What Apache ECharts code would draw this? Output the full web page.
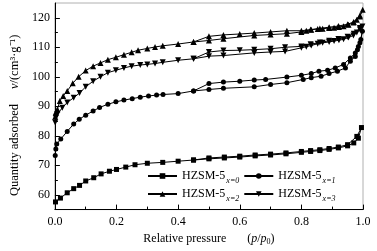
<!DOCTYPE html>
<html><head><meta charset="utf-8">
<script src="https://cdn.jsdelivr.net/npm/echarts@6/dist/echarts.min.js"></script>
<style>html,body{margin:0;padding:0;background:#fff}#c{width:377px;height:251px}</style>
</head><body><div id="c"></div>
<script>
// HZSM-5 x=0 (squares)
const p0Ads = [0.002, 0.018, 0.04, 0.061, 0.08, 0.10, 0.126, 0.15, 0.177, 0.20, 0.23, 0.26, 0.30, 0.35, 0.40, 0.45, 0.50, 0.55, 0.60, 0.65, 0.70, 0.75, 0.80, 0.83, 0.86, 0.89, 0.92, 0.95, 0.97, 0.985, 0.995];
const v0Ads = [57.6, 58.9, 60.7, 62.1, 63.2, 64.7, 65.8, 67.1, 68.0, 68.6, 69.4, 70.2, 70.7, 71.0, 71.4, 71.8, 72.2, 72.5, 72.8, 73.2, 73.5, 73.9, 74.4, 74.7, 75.0, 75.4, 75.9, 76.6, 77.6, 79.2, 82.8];
const p0Des = [0.98, 0.95, 0.92, 0.89, 0.86, 0.83, 0.80, 0.75, 0.70, 0.65, 0.60, 0.55, 0.50, 0.45];
const v0Des = [79.8, 77.0, 76.2, 75.7, 75.3, 75.0, 74.7, 74.2, 73.8, 73.5, 73.1, 72.8, 72.5, 71.8];
// HZSM-5 x=1 (circles)
const p1Ads = [0.001, 0.003, 0.006, 0.019, 0.04, 0.061, 0.079, 0.10, 0.124, 0.145, 0.172, 0.198, 0.224, 0.251, 0.277, 0.304, 0.33, 0.351, 0.40, 0.45, 0.50, 0.547, 0.647, 0.70, 0.753, 0.806, 0.832, 0.864, 0.89, 0.917, 0.943, 0.959, 0.975, 0.982, 0.99, 0.998];
const v1Ads = [73.3, 75.5, 77.2, 78.9, 81.5, 84.0, 85.6, 87.0, 88.4, 89.6, 90.7, 91.5, 92.1, 92.6, 93.1, 93.5, 93.8, 94.0, 94.3, 95.2, 95.7, 96.1, 96.6, 97.4, 98.0, 99.1, 99.7, 100.2, 101.1, 101.9, 103.0, 105.3, 106.9, 109.2, 111.5, 115.4];
const p1Des = [0.993, 0.985, 0.975, 0.959, 0.937, 0.91, 0.885, 0.857, 0.832, 0.80, 0.753, 0.684, 0.647, 0.60, 0.547, 0.50, 0.45];
const v1Des = [112.6, 110.3, 108.1, 106.4, 104.2, 103.0, 102.2, 101.9, 101.1, 100.5, 99.9, 99.1, 98.9, 98.5, 98.2, 97.7, 95.2];
// HZSM-5 x=2 (triangles)
const p2Ads = [0.001, 0.003, 0.008, 0.016, 0.027, 0.04, 0.058, 0.077, 0.10, 0.124, 0.148, 0.172, 0.198, 0.224, 0.249, 0.27, 0.30, 0.325, 0.35, 0.40, 0.45, 0.50, 0.547, 0.647, 0.70, 0.753, 0.80, 0.816, 0.832, 0.853, 0.869, 0.89, 0.906, 0.922, 0.937, 0.953, 0.969, 0.98, 0.99, 0.999];
const v2Ads = [86.5, 88.0, 89.0, 91.8, 93.5, 95.2, 97.8, 100.0, 102.1, 103.6, 104.7, 105.8, 106.6, 107.5, 108.3, 109.0, 109.6, 110.1, 110.5, 111.1, 111.8, 112.3, 112.9, 114.0, 114.3, 114.6, 115.2, 115.6, 115.9, 116.2, 116.3, 116.5, 116.6, 116.9, 117.1, 117.6, 118.4, 119.3, 120.4, 122.7];
const p2Des = [0.99, 0.97, 0.95, 0.92, 0.89, 0.86, 0.83, 0.80, 0.753, 0.70, 0.647, 0.60, 0.547, 0.50, 0.45];
const v2Des = [120.8, 118.6, 117.8, 117.2, 116.8, 116.4, 116.0, 115.6, 115.6, 115.2, 114.8, 114.5, 114.2, 113.7, 111.8];
// HZSM-5 x=3 (inverted triangles)
const p3Ads = [0.001, 0.003, 0.008, 0.024, 0.04, 0.061, 0.08, 0.10, 0.124, 0.148, 0.172, 0.198, 0.224, 0.249, 0.277, 0.30, 0.325, 0.35, 0.40, 0.45, 0.50, 0.547, 0.647, 0.70, 0.747, 0.80, 0.816, 0.832, 0.853, 0.869, 0.89, 0.906, 0.922, 0.937, 0.953, 0.969, 0.98, 0.99, 0.998];
const v3Ads = [84.5, 86.0, 87.3, 89.5, 91.3, 92.9, 94.5, 96.6, 98.5, 100.0, 101.4, 102.2, 103.0, 103.6, 104.0, 104.2, 104.5, 104.9, 105.6, 106.1, 107.0, 107.2, 108.1, 108.4, 108.6, 109.8, 110.2, 110.6, 111.2, 111.5, 111.8, 112.1, 112.4, 112.7, 113.3, 114.0, 115.0, 116.0, 117.0];
const p3Des = [0.99, 0.97, 0.95, 0.92, 0.89, 0.86, 0.83, 0.80, 0.747, 0.70, 0.647, 0.60, 0.547, 0.50, 0.45];
const v3Des = [116.5, 114.6, 113.6, 112.8, 112.2, 111.6, 111.0, 110.3, 110.0, 109.5, 109.2, 109.0, 108.9, 108.4, 106.1];

const seriesSubs = ['x=0', 'x=1', 'x=2', 'x=3'];
const xTicks = [0, 0.2, 0.4, 0.6, 0.8, 1.0];
const yMajor = [60, 70, 80, 90, 100, 110, 120];
const yMinor = [65, 75, 85, 95, 105, 115];

function loop(pa, va, pd, vd) {
  const out = [];
  pa.forEach((p, i) => out.push([p, va[i]]));
  pd.forEach((p, i) => out.push([p, vd[i]]));
  return out;
}
const dataSets = [
  loop(p0Ads, v0Ads, p0Des, v0Des),
  loop(p1Ads, v1Ads, p1Des, v1Des),
  loop(p2Ads, v2Ads, p2Des, v2Des),
  loop(p3Ads, v3Ads, p3Des, v3Des)
];
const symbols = ['rect', 'circle', 'triangle', 'path://M0,0 L10,0 L5,9 Z'];
const sizes = [5, 5, 6, 6];
const FONT = '"Liberation Serif", "Times New Roman", serif';

const chart = echarts.init(document.getElementById('c'), null, {renderer: 'canvas'});
const legendRich = {
  a: {fontFamily: FONT, fontSize: 12, color: '#000'},
  b: {fontFamily: FONT, fontSize: 8, fontStyle: 'italic', color: '#000', padding: [9, 0, 0, 1]}
};
function legendCfg(names, top) {
  return {
    data: names, left: 142, top: top, orient: 'horizontal', itemGap: 4,
    itemWidth: 29, itemHeight: 7,
    textStyle: {rich: legendRich},
    formatter: n => '{a|HZSM-5}{b|' + n + '}'
  };
}
const axisFont = {fontFamily: FONT, fontSize: 12, color: '#000'};
chart.setOption({
  animation: false,
  backgroundColor: '#fff',
  grid: {left: 47, right: 14, top: 3, bottom: 40, show: true, borderColor: '#b0b0b0', borderWidth: 1},
  legend: [legendCfg(seriesSubs.slice(0, 2), 165), legendCfg(seriesSubs.slice(2, 4), 183)],
  xAxis: {
    type: 'value', min: 0, max: 1, interval: 0.2,
    axisLine: {show: true, lineStyle: {color: '#000', width: 1}},
    axisTick: {show: true, inside: true, length: 5, lineStyle: {color: '#000'}},
    minorTick: {show: true, splitNumber: 2, length: 3, lineStyle: {color: '#000'}},
    splitLine: {show: false},
    axisLabel: Object.assign({margin: 6, formatter: v => v.toFixed(1)}, axisFont),
    name: '{t|Relative pressure}{s|       }{t|(}{i|p}{t|/}{i|p}{sub|0}{t|)}',
    nameLocation: 'middle', nameGap: 19,
    nameTextStyle: {rich: {
      t: {fontFamily: FONT, fontSize: 12, color: '#000'},
      s: {fontFamily: FONT, fontSize: 12},
      i: {fontFamily: FONT, fontSize: 12, fontStyle: 'italic', color: '#000'},
      sub: {fontFamily: FONT, fontSize: 8, color: '#000', padding: [7, 0, 0, 0]}
    }}
  },
  yAxis: [{
    type: 'value', min: 55, max: 125,
    axisLine: {show: true, lineStyle: {color: '#000', width: 1}},
    axisTick: {show: true, inside: true, length: 5, customValues: yMajor, lineStyle: {color: '#000'}},
    splitLine: {show: false},
    axisLabel: Object.assign({margin: 5, customValues: yMajor}, axisFont),
    name: '{t|Quantity adsorbed}{s|     }{i|v}{t|/(cm³·g⁻¹)}{e| }',
    nameLocation: 'middle', nameGap: 29,
    nameTextStyle: {rich: {
      t: {fontFamily: FONT, fontSize: 12.5, color: '#000'},
      s: {fontFamily: FONT, fontSize: 12},
      i: {fontFamily: FONT, fontSize: 12.5, fontStyle: 'italic', color: '#000'},
      e: {fontFamily: FONT, fontSize: 12, width: 18}
    }}
  }, {
    type: 'value', min: 55, max: 125, position: 'left',
    axisLine: {show: false},
    axisTick: {show: true, inside: true, length: 3, customValues: yMinor, lineStyle: {color: '#000'}},
    axisLabel: {show: false},
    splitLine: {show: false}
  }],
  series: dataSets.map((d, i) => ({
    type: 'line', name: seriesSubs[i], data: d,
    symbol: symbols[i], symbolSize: sizes[i], showSymbol: true,
    lineStyle: {color: '#000', width: 1},
    itemStyle: {color: '#000', borderColor: '#000', borderWidth: 0},
    z: 3
  }))
});
</script></body></html>
